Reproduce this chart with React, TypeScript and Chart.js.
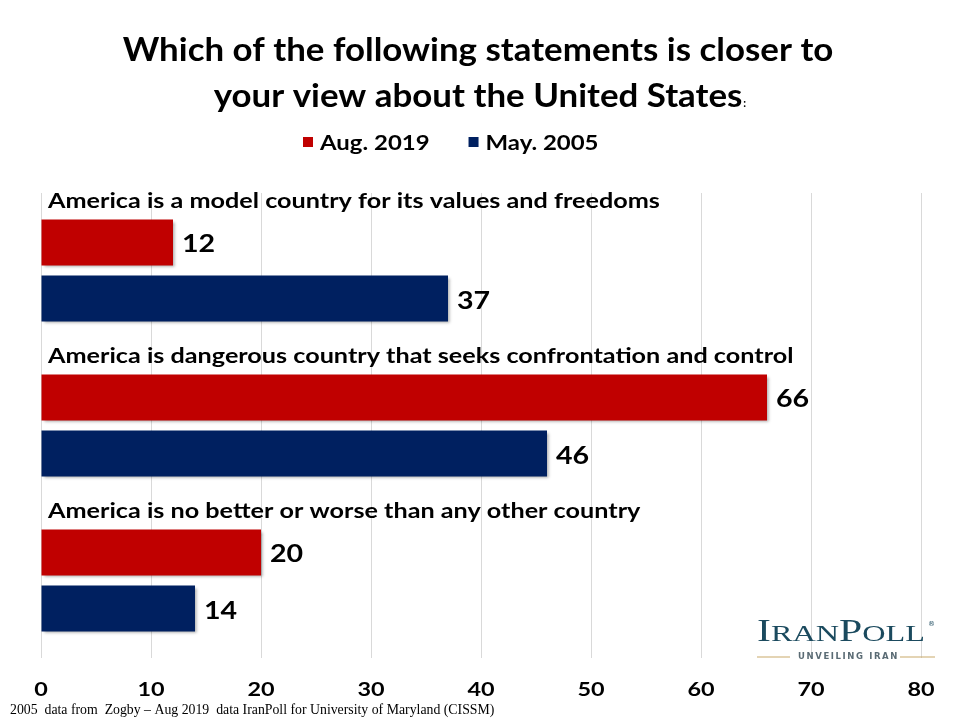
import React, { useEffect, useRef } from "react";
import { Chart, registerables } from "chart.js";

Chart.register(...registerables);

const titleLine1 = "Which of the following statements is closer to";
const titleLine2 = "your view about the United States";
const titleSuffix = ":";
const categories = [
  "America is a model country for its values and freedoms",
  "America is dangerous country that seeks confrontation and control",
  "America is no better or worse than any other country",
];
const seriesNames = ["Aug. 2019", "May. 2005"];
const aug2019 = [12, 66, 20];
const may2005 = [37, 46, 14];
const seriesColors = ["#C00000", "#002060"];
const xMin = 0;
const xMax = 80;
const xStep = 10;
const footerText =
  "2005  data from  Zogby \u2013 Aug 2019  data IranPoll for University of Maryland (CISSM)";

const FONT = "Lato, 'Open Sans', sans-serif";

function stretchText(ctx: any, text: string, x: number, y: number, sx: number, align: "left" | "center" = "left") {
  const w = ctx.measureText(text).width * sx;
  const x0 = align === "center" ? x - w / 2 : x;
  ctx.save();
  ctx.translate(x0, y);
  ctx.scale(sx, 1);
  ctx.textAlign = "left";
  ctx.fillText(text, 0, 0);
  ctx.restore();
  return w;
}

const decorPlugin = {
  id: "decor",
  beforeDatasetDraw(chart: any) {
    const ctx = chart.ctx;
    ctx.save();
    ctx.shadowColor = "rgba(0,0,0,0.35)";
    ctx.shadowOffsetX = 2;
    ctx.shadowOffsetY = 2;
    ctx.shadowBlur = 3;
  },
  afterDatasetDraw(chart: any) {
    chart.ctx.restore();
  },
  afterDraw(chart: any) {
    const ctx = chart.ctx;
    const yScale = chart.scales.y;
    const xScale = chart.scales.x;
    ctx.save();
    ctx.fillStyle = "#000";
    ctx.textBaseline = "alphabetic";

    // Title
    ctx.font = `bold 32px ${FONT}`;
    stretchText(ctx, titleLine1, 478, 61, 1.09, "center");
    const w2 = ctx.measureText(titleLine2).width * 1.09;
    const x2 = 478 - w2 / 2;
    stretchText(ctx, titleLine2, x2, 107, 1.09);
    ctx.font = `bold 11px ${FONT}`;
    ctx.fillText(titleSuffix, x2 + w2 + 1, 107);

    // Legend
    let lx = 303;
    ctx.font = `bold 21px ${FONT}`;
    chart.data.datasets.forEach((ds: any) => {
      ctx.fillStyle = ds.backgroundColor;
      ctx.fillRect(lx, 137, 10, 10);
      ctx.fillStyle = "#000";
      const w = stretchText(ctx, ds.label, lx + 17, 150, 1.14);
      lx += 17 + w + 39;
    });

    // Category labels
    ctx.font = `bold 20px ${FONT}`;
    const band = yScale.getPixelForValue(1) - yScale.getPixelForValue(0);
    chart.data.labels.forEach((lab: string, i: number) => {
      const yb = yScale.getPixelForValue(i) - band / 2 + 15;
      stretchText(ctx, lab, 48, yb, 1.26);
    });

    // Value labels
    ctx.font = `bold 25.5px ${FONT}`;
    chart.data.datasets.forEach((ds: any, di: number) => {
      const meta = chart.getDatasetMeta(di);
      meta.data.forEach((bar: any, i: number) => {
        stretchText(ctx, String(ds.data[i]), bar.x + 9, bar.y + 10, 1.12);
      });
    });

    // X tick labels
    ctx.font = `bold 18px ${FONT}`;
    xScale.ticks.forEach((t: any) => {
      stretchText(ctx, String(t.value), xScale.getPixelForValue(t.value), 696, 1.3, "center");
    });

    // Footer
    ctx.font = "13.8px 'Liberation Serif', 'Times New Roman', serif";
    ctx.fillText(footerText, 10, 714);

    // Logo
    const teal = "#1B4A5E";
    ctx.fillStyle = teal;
    const parts: [string, number][] = [
      ["I", 31],
      ["RAN", 24],
      ["P", 31],
      ["OLL", 24],
    ];
    let total = 0;
    parts.forEach(([t, s]) => {
      ctx.font = `${s}px 'Liberation Serif', serif`;
      total += ctx.measureText(t).width;
    });
    const sx = 168 / total;
    ctx.save();
    ctx.translate(757, 641);
    ctx.scale(sx, 1);
    let px = 0;
    parts.forEach(([t, s]) => {
      ctx.font = `${s}px 'Liberation Serif', serif`;
      ctx.fillText(t, px, 0);
      px += ctx.measureText(t).width;
    });
    ctx.restore();
    ctx.font = `7px 'DejaVu Sans', sans-serif`;
    ctx.fillText("\u00AE", 928, 626);
    ctx.fillStyle = "#5a6b74";
    ctx.font = `bold 8.5px 'DejaVu Sans', sans-serif`;
    ctx.textBaseline = "middle";
    const tag = "UNVEILING IRAN";
    let tx = 798;
    for (const ch of tag) {
      ctx.fillText(ch, tx, 657);
      tx += ctx.measureText(ch).width + 1.6;
    }
    ctx.strokeStyle = "#C9A96B";
    ctx.lineWidth = 1.2;
    ctx.beginPath();
    ctx.moveTo(757, 657);
    ctx.lineTo(790, 657);
    ctx.moveTo(900, 657);
    ctx.lineTo(935, 657);
    ctx.stroke();

    ctx.restore();
  },
};

export default function App() {
  const ref = useRef<HTMLCanvasElement>(null);
  useEffect(() => {
    if (!ref.current) return;
    const chart = new Chart(ref.current, {
      type: "bar",
      data: {
        labels: categories,
        datasets: [
          {
            label: seriesNames[0],
            data: aug2019,
            backgroundColor: seriesColors[0],
            categoryPercentage: 0.7226,
            barPercentage: 0.82,
          },
          {
            label: seriesNames[1],
            data: may2005,
            backgroundColor: seriesColors[1],
            categoryPercentage: 0.7226,
            barPercentage: 0.82,
          },
        ],
      },
      options: {
        indexAxis: "y",
        animation: false,
        responsive: false,
        maintainAspectRatio: false,
        layout: { padding: { left: 41, right: 39, top: 193, bottom: 17 } },
        plugins: {
          legend: { display: false },
          title: { display: false },
          tooltip: { enabled: false },
        },
        scales: {
          x: {
            min: xMin,
            max: xMax,
            afterFit: (scale: any) => {
              scale.height = 45;
            },
            ticks: {
              stepSize: xStep,
              display: false,
            },
            grid: { color: "#D9D9D9", drawTicks: false },
            border: { display: false },
          },
          y: {
            display: false,
            grid: { display: false },
          },
        },
      },
      plugins: [decorPlugin],
    });
    return () => chart.destroy();
  }, []);
  return (
    <div style={{ position: "fixed", left: 0, top: 0, width: 960, height: 720, background: "#fff" }}>
      <canvas ref={ref} width={960} height={720} style={{ width: 960, height: 720 }} />
    </div>
  );
}
